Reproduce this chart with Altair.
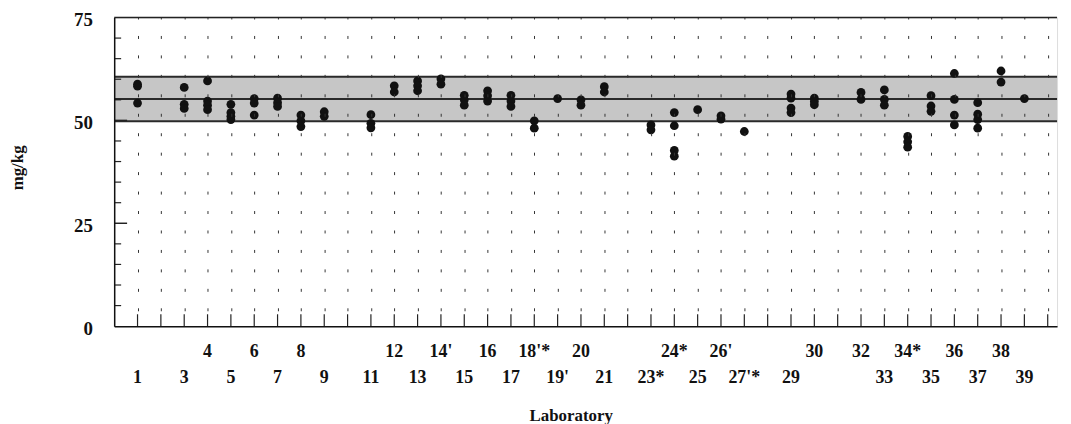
import altair as alt
import pandas as pd

# ---- data ----
point_lab = [1, 1, 1,
             3, 3, 3,
             4, 4, 4, 4,
             5, 5, 5, 5,
             6, 6, 6,
             7, 7, 7,
             8, 8, 8,
             9, 9,
             11, 11, 11,
             12, 12,
             13, 13, 13,
             14, 14,
             15, 15, 15,
             16, 16, 16,
             17, 17, 17,
             18, 18,
             19,
             20, 20,
             21, 21,
             23, 23,
             24, 24, 24, 24,
             25,
             26, 26,
             27,
             29, 29, 29, 29,
             30, 30, 30,
             32, 32,
             33, 33, 33,
             34, 34, 34,
             35, 35, 35,
             36, 36, 36, 36,
             37, 37, 37, 37,
             38, 38,
             39]
point_val = [58.8, 58.3, 54.2,
             58.0, 53.9, 52.9,
             59.6, 54.7, 53.7, 52.6,
             53.9, 51.9, 51.0, 50.2,
             55.3, 54.2, 51.3,
             55.4, 54.3, 53.4,
             51.3, 49.9, 48.5,
             52.1, 51.0,
             51.4, 49.3, 48.2,
             58.4, 56.9,
             59.6, 58.4, 57.2,
             60.1, 58.8,
             56.1, 55.0, 53.7,
             57.2, 56.0, 54.7,
             56.1, 54.7, 53.4,
             49.9, 48.1,
             55.3,
             55.0, 53.7,
             58.2, 56.9,
             48.9, 47.7,
             51.9, 48.7, 42.7, 41.3,
             52.6,
             51.1, 50.3,
             47.3,
             56.4, 55.4, 53.0, 51.9,
             55.4, 54.6, 53.8,
             56.8, 55.1,
             57.4, 55.1, 53.7,
             46.1, 44.8, 43.5,
             56.0, 53.5, 52.2,
             61.4, 55.1, 51.3, 48.9,
             54.3, 51.5, 50.2, 48.1,
             62.0, 59.3,
             55.3]

label_pos = [1, 3, 4, 5, 6, 7, 8, 9, 11, 12, 13, 14, 15, 16, 17, 18, 19, 20,
             21, 23, 24, 25, 26, 27, 29, 30, 32, 33, 34, 35, 36, 37, 38, 39]
label_txt = ["1", "3", "4", "5", "6", "7", "8", "9", "11", "12", "13", "14'",
             "15", "16", "17", "18'*", "19'", "20", "21", "23*", "24*", "25",
             "26'", "27'*", "29", "30", "32", "33", "34*", "35", "36", "37",
             "38", "39"]

band_low = 49.8
band_mean = 55.2
band_high = 60.6

y_tick_labels = [0, 25, 50, 75]
y_minor = [5, 10, 15, 20, 30, 35, 40, 45, 55, 60, 65, 70]
y_major = [25, 50]
lab_grid = list(range(1, 41))

# ---- layout ----
W, H = 950, 311
FONT = "Liberation Serif"
x_scale = alt.Scale(domain=[0, 40.4], nice=False, zero=False)
y_scale = alt.Scale(domain=[0, 75], nice=False, zero=False)

x_axis = alt.Axis(
    values=lab_grid, grid=True, gridDash=[3, 16.6], gridDashOffset=1.5,
    gridColor="#333333", gridWidth=1, gridOpacity=1,
    labels=False, ticks=False, domain=True, domainColor="#111111",
    domainWidth=1.5, title="Laboratory", titleFont=FONT,
    titleFontSize=17, titleFontWeight="bold", titleColor="#111111",
    titleY=90, titleBaseline="middle", titleX=W / 2 - 15, zindex=1)

y_axis = alt.Axis(
    values=y_tick_labels, grid=False, ticks=False, domain=True,
    domainColor="#111111", domainWidth=1.5, labelFont=FONT,
    labelFontSize=19, labelFontWeight="bold", labelColor="#111111",
    labelPadding=22, labelBaseline="middle", labelOffset=2,
    title="mg/kg", titleFont=FONT, titleFontSize=17,
    titleFontWeight="bold", titleColor="#111111", titleAngle=270,
    titleX=-97, titleY=151, titleAlign="center", titleBaseline="middle",
    zindex=1)

pts = pd.DataFrame({"lab": point_lab, "val": point_val})
labels = pd.DataFrame({"lab": label_pos, "txt": label_txt})
labels["row"] = ["upper" if p % 2 == 0 else "lower" for p in label_pos]

points = alt.Chart(pts).mark_circle(size=78, color="#111111", opacity=1).encode(
    x=alt.X("lab:Q", scale=x_scale, axis=x_axis),
    y=alt.Y("val:Q", scale=y_scale, axis=y_axis),
)

band = alt.Chart(pd.DataFrame({"val": [band_low], "hi": [band_high]})).mark_rect(
    color="#c6c6c6"
).encode(
    y=alt.Y("val:Q", scale=y_scale, axis=y_axis),
    y2="hi:Q",
    x=alt.value(0), x2=alt.value(W),
)

band_lines = alt.Chart(pd.DataFrame({"val": [band_low, band_mean, band_high]})).mark_rule(
    color="#2a2a2a", strokeWidth=2
).encode(
    y=alt.Y("val:Q", scale=y_scale, axis=y_axis),
    x=alt.value(0), x2=alt.value(W),
)

minor_ticks = alt.Chart(pd.DataFrame({"val": y_minor})).mark_rule(
    color="#222222", strokeWidth=1.2
).encode(y=alt.Y("val:Q", scale=y_scale, axis=y_axis),
         x=alt.value(0), x2=alt.value(7))

major_ticks = alt.Chart(pd.DataFrame({"val": y_major})).mark_rule(
    color="#222222", strokeWidth=1.5
).encode(y=alt.Y("val:Q", scale=y_scale, axis=y_axis),
         x=alt.value(0), x2=alt.value(13))

bottom_ticks = alt.Chart(pd.DataFrame({"lab": lab_grid})).mark_rule(
    color="#222222", strokeWidth=1.2
).encode(x=alt.X("lab:Q", scale=x_scale, axis=x_axis),
         y=alt.value(H), y2=alt.value(H - 12))

top_line = alt.Chart(pd.DataFrame({"a": [0]})).mark_rule(
    color="#222222", strokeWidth=1.5
).encode(y=alt.value(0), x=alt.value(0), x2=alt.value(W))

upper_txt = alt.Chart(labels).transform_filter(alt.datum.row == "upper").mark_text(
    font=FONT, fontSize=18, fontWeight="bold", color="#111111",
    baseline="middle", align="center"
).encode(x=alt.X("lab:Q", scale=x_scale, axis=x_axis), y=alt.value(H + 26.5),
         text="txt:N")

lower_txt = alt.Chart(labels).transform_filter(alt.datum.row == "lower").mark_text(
    font=FONT, fontSize=18, fontWeight="bold", color="#111111",
    baseline="middle", align="center"
).encode(x=alt.X("lab:Q", scale=x_scale, axis=x_axis), y=alt.value(H + 52.5),
         text="txt:N")

chart = alt.layer(
    band, band_lines, points, minor_ticks, major_ticks, bottom_ticks,
    top_line, upper_txt, lower_txt
).properties(
    width=W, height=H,
    autosize=alt.AutoSizeParams(type="none"),
    padding={"left": 107, "top": 8, "right": 6, "bottom": 97},
).configure_view(stroke=None).configure(background="white")

chart.save("out.html", embed_options={"renderer": "svg", "actions": False})
